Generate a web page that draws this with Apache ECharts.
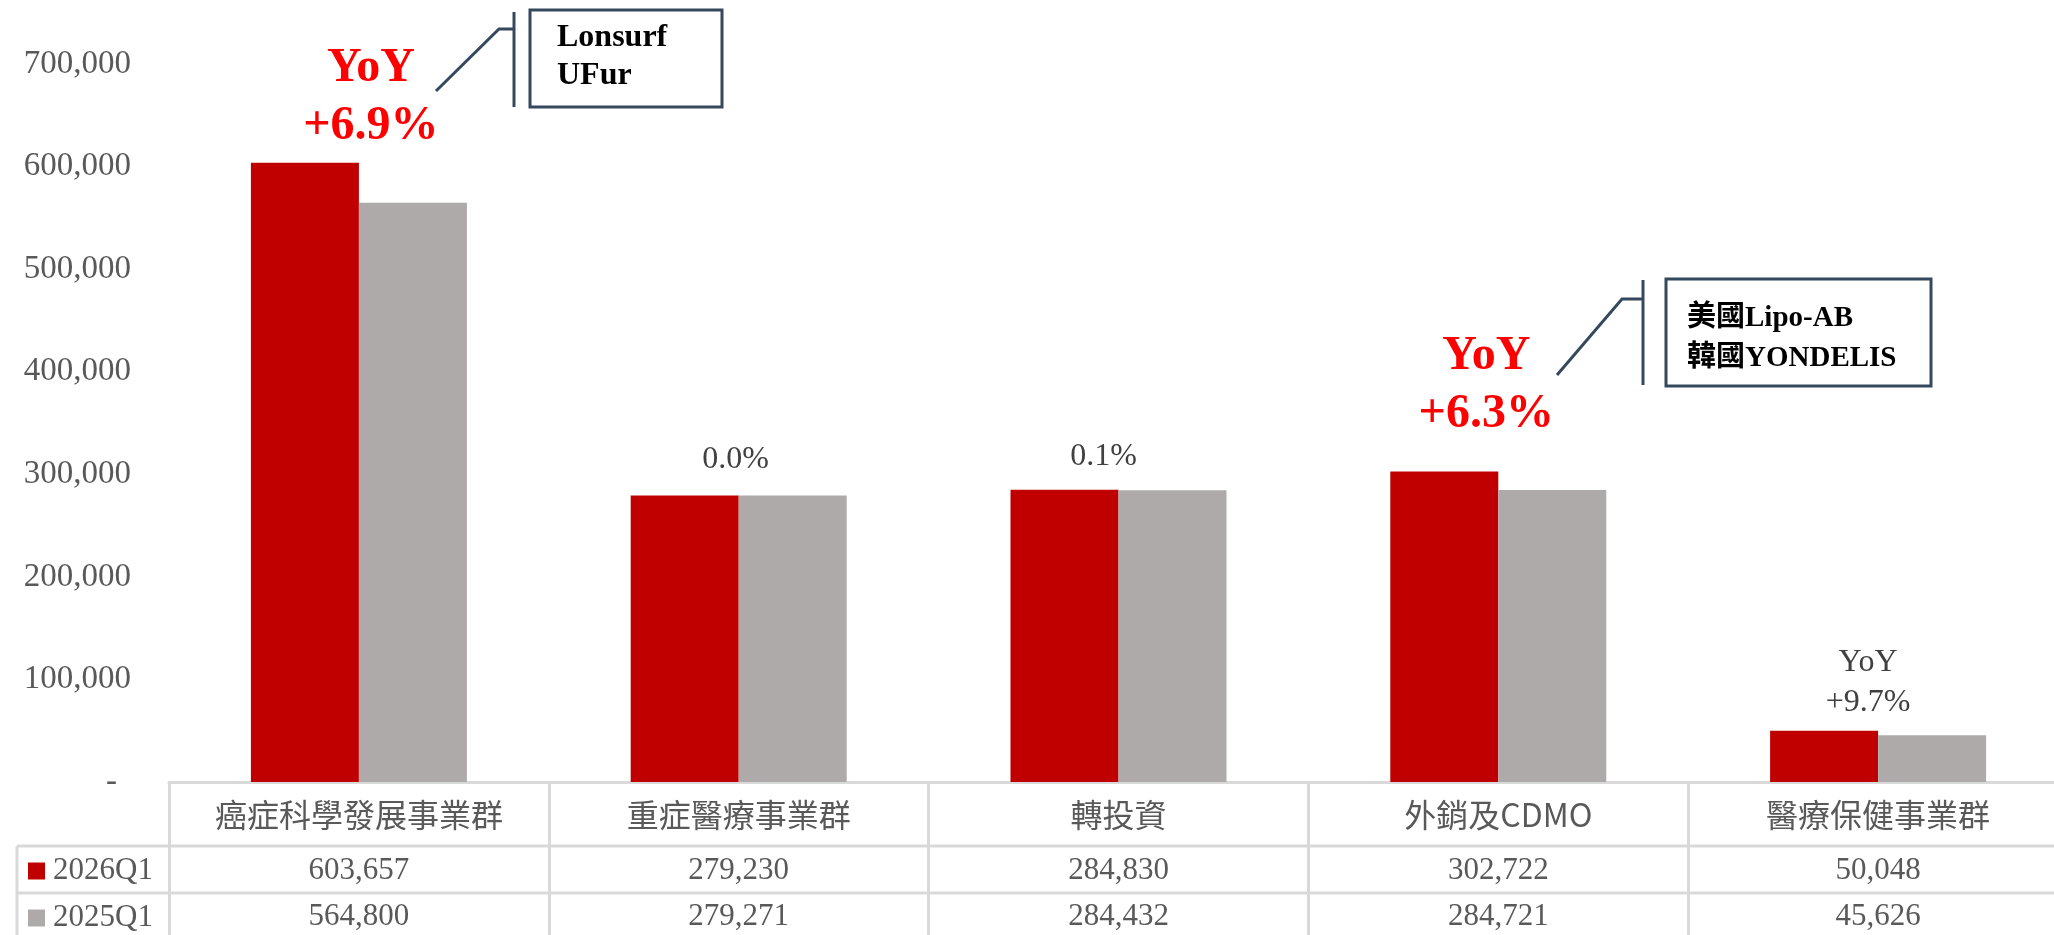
<!DOCTYPE html>
<html lang="zh-Hant">
<head>
<meta charset="UTF-8">
<title>事業群營收</title>
<style>
  html, body { margin: 0; padding: 0; background: #fff; }
  #main { width: 2054px; height: 935px; }
</style>
</head>
<body>
<div id="main"></div>
<script src="https://cdn.jsdelivr.net/npm/echarts@6/dist/echarts.min.js"></script>
<script type="text/javascript">
    // 資料
    var categories = ['癌症科學發展事業群', '重症醫療事業群', '轉投資', '外銷及CDMO', '醫療保健事業群'];
    var seriesNames = ['2026Q1', '2025Q1'];
    var q2026 = [603657, 279230, 284830, 302722, 50048];
    var q2025 = [564800, 279271, 284432, 284721, 45626];
    var yoyText = ['YoY\n+6.9%', '0.0%', '0.1%', 'YoY\n+6.3%', 'YoY\n+9.7%'];
    var yoyHighlight = [true, false, false, true, false];
    var yTicks = [0, 100000, 200000, 300000, 400000, 500000, 600000, 700000];
    var callout1 = ['Lonsurf', 'UFur'];
    var callout2 = ['美國Lipo-AB', '韓國YONDELIS'];

    var RED = '#C00000', GRAY = '#AEAAAA', LINE = '#D9D9D9', TXT = '#595959';
    var SERIF = '"Liberation Serif", "Noto Sans CJK TC", serif';
    var CJK = '"Noto Sans CJK TC", sans-serif';

    function fmt(v) { return v.toLocaleString('en-US'); }

    var myChart = echarts.init(document.getElementById('main'));
    var option = {
        animation: false,
        grid: { left: 169, top: 64, width: 1899, bottom: 153, outerBoundsMode: 'none' },
        legend: {
            orient: 'vertical', left: 28, top: 855, height: 120, padding: 0,
            icon: 'rect', itemWidth: 17, itemHeight: 17, itemGap: 15,
            data: seriesNames,
            textStyle: { fontFamily: SERIF, fontSize: 31, color: TXT, lineHeight: 32, padding: [0, 0, 0, 3] }
        },
        yAxis: {
            type: 'value', min: yTicks[0], max: yTicks[yTicks.length - 1], interval: 100000,
            splitLine: { show: false }, axisLine: { show: false }, axisTick: { show: false },
            axisLabel: {
                margin: 38, fontFamily: SERIF, fontSize: 33, color: TXT,
                formatter: function (v) { return v === 0 ? '{z|-}' : fmt(v); },
                rich: { z: { fontFamily: SERIF, fontSize: 33, color: TXT, padding: [0, 14, 0, 0] } }
            }
        },
        xAxis: [{
            type: 'category', data: categories, position: 'bottom',
            axisLine: { show: true, lineStyle: { color: LINE, width: 3 } },
            axisTick: { show: true, interval: 0, length: 160, lineStyle: { color: LINE, width: 3 } },
            axisLabel: { interval: 0, margin: 17, fontFamily: CJK, fontSize: 32, lineHeight: 32, color: TXT }
        }, {
            type: 'category', data: categories, position: 'bottom', offset: 64,
            axisLine: { show: false }, axisTick: { show: false },
            axisLabel: {
                interval: 0, margin: 9, fontFamily: SERIF, fontSize: 31, lineHeight: 32, color: TXT,
                formatter: function (v, i) { return fmt(q2026[i]); }
            }
        }, {
            type: 'category', data: categories, position: 'bottom', offset: 111,
            axisLine: { show: false }, axisTick: { show: false },
            axisLabel: {
                interval: 0, margin: 8, fontFamily: SERIF, fontSize: 31, lineHeight: 32, color: TXT,
                formatter: function (v, i) { return fmt(q2025[i]); }
            }
        }],
        series: [{
            name: seriesNames[0], type: 'bar', data: q2026, barWidth: 108, barGap: '0%',
            itemStyle: { color: RED }
        }, {
            name: seriesNames[1], type: 'bar', data: q2025, barWidth: 108,
            itemStyle: { color: GRAY }
        }]
    };
    myChart.setOption(option);

    // 表格線
    var g = [];
    function line(id, x1, y1, x2, y2, color, w) {
        g.push({ type: 'line', id: id, silent: true, z: 10,
            shape: { x1: x1, y1: y1, x2: x2, y2: y2 },
            style: { stroke: color, lineWidth: w } });
    }
    line('h1', 17, 846, 2054, 846, LINE, 3);
    line('h2', 17, 893, 2054, 893, LINE, 3);
    line('v0', 17, 846, 17, 940, LINE, 3);

    // YoY 標籤 (位於每組長條上方)
    var yoyNudge = [[12, -7], [-3, -16], [-15, -13], [-12, -28], [-10, -8]];
    categories.forEach(function (c, i) {
        var top = Math.max(q2026[i], q2025[i]);
        var p = myChart.convertToPixel({ seriesIndex: 0 }, [i, top]);
        var hi = yoyHighlight[i];
        g.push({
            type: 'text', id: 'yoy' + i, z: 20, silent: true,
            style: {
                text: yoyText[i], x: p[0] + yoyNudge[i][0], y: p[1] + yoyNudge[i][1],
                align: 'center', verticalAlign: 'bottom',
                fill: hi ? '#FF0000' : '#404040',
                fontFamily: SERIF, fontWeight: hi ? 'bold' : 'normal',
                fontSize: hi ? 48 : 32,
                lineHeight: hi ? 58 : 40
            }
        });
    });

    // 說明框
    function callout(id, box, lines, fs, lh, pts, vx, vy1, vy2) {
        g.push({ type: 'rect', id: id + 'r', z: 20, silent: true,
            shape: { x: box[0], y: box[1], width: box[2], height: box[3] },
            style: { fill: '#fff', stroke: '#34495E', lineWidth: 3 } });
        g.push({ type: 'text', id: id + 't', z: 21, silent: true,
            style: { text: lines.join('\n'), x: box[0] + box[4], y: box[1] + box[5],
                fill: '#000', fontFamily: SERIF, fontWeight: 'bold', fontSize: fs, lineHeight: lh } });
        g.push({ type: 'polyline', id: id + 'p', z: 20, silent: true,
            shape: { points: pts }, style: { stroke: '#34495E', lineWidth: 3, fill: null } });
        line(id + 'v', vx, vy1, vx, vy2, '#34495E', 3);
    }
    callout('c1', [530, 10, 192, 97, 27, 9], callout1, 32, 38,
        [[436, 91], [499, 29], [514, 29]], 514, 12, 107);
    callout('c2', [1666, 279, 265, 107, 21, 20], callout2, 29, 40,
        [[1557, 375], [1622, 299], [1643, 299]], 1643, 280, 385);

    myChart.setOption({ graphic: g });
</script>
</body>
</html>
